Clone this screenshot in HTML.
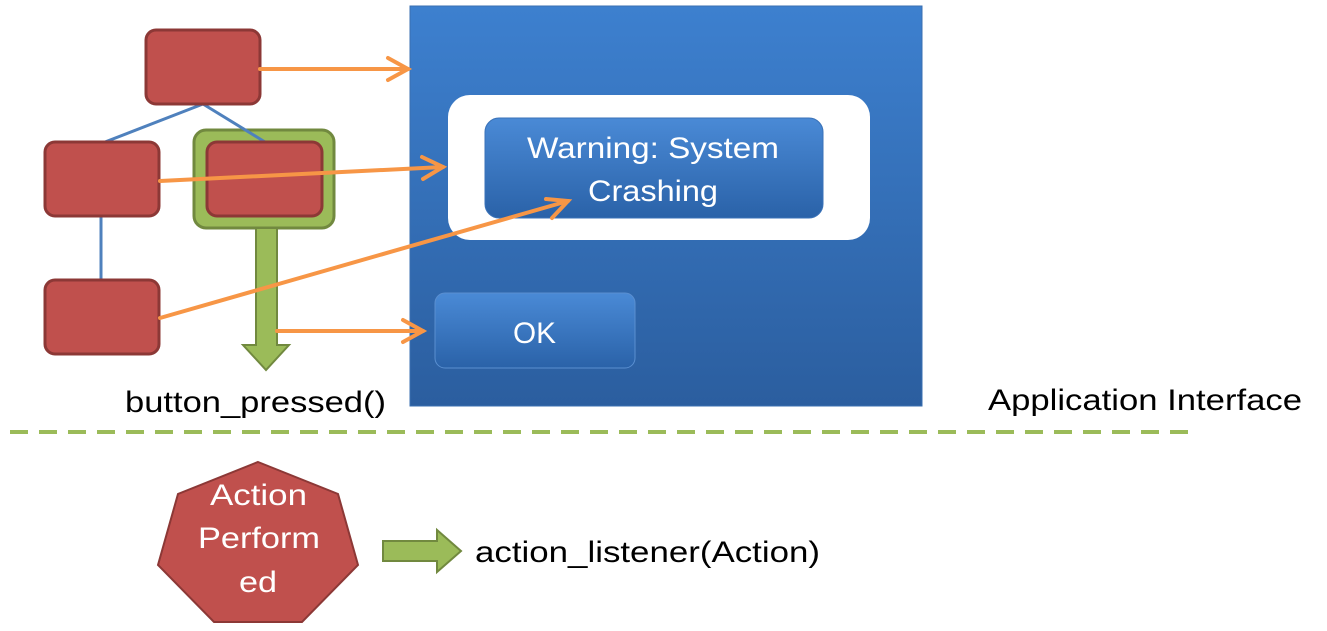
<!DOCTYPE html>
<html><head><meta charset="utf-8"><style>
html,body{margin:0;padding:0;background:#fff;}
svg{display:block;}
text{font-family:"Liberation Sans",sans-serif;}
</style></head><body>
<svg width="1327" height="631" viewBox="0 0 1327 631" xmlns="http://www.w3.org/2000/svg">
<defs>
<linearGradient id="pan" x1="0" y1="0" x2="0" y2="1"><stop offset="0" stop-color="#3d80cf"/><stop offset="1" stop-color="#2b5e9f"/></linearGradient>
<linearGradient id="btn" x1="0" y1="0" x2="0" y2="1"><stop offset="0" stop-color="#4a8ad6"/><stop offset="1" stop-color="#2a62a8"/></linearGradient>
</defs>
<rect x="410" y="6" width="512" height="400" fill="url(#pan)" stroke="#3a6fb0" stroke-width="1"/>
<rect x="448" y="95" width="422" height="145" rx="22" fill="#fff"/>
<rect x="485" y="118" width="338" height="100" rx="14" fill="url(#btn)" stroke="#3a72b8"/>
<text x="527" y="158" font-size="30" fill="#fff" textLength="252" lengthAdjust="spacingAndGlyphs">Warning: System</text>
<text x="588" y="201" font-size="30" fill="#fff" textLength="130" lengthAdjust="spacingAndGlyphs">Crashing</text>
<rect x="435" y="293" width="200" height="75" rx="10" fill="url(#btn)" stroke="#5a8fd0"/>
<text x="513" y="343" font-size="30" fill="#fff" textLength="43" lengthAdjust="spacingAndGlyphs">OK</text>
<rect x="194" y="130" width="140" height="98" rx="12" fill="#9bbb59" stroke="#71893f" stroke-width="3"/>
<g stroke="#4f81bd" stroke-width="3">
<line x1="203" y1="104" x2="105" y2="142"/><line x1="203" y1="104" x2="265" y2="142"/>
<line x1="101" y1="216" x2="101" y2="280"/></g>
<g fill="#c0504d" stroke="#8c3836" stroke-width="3">
<rect x="146" y="30" width="114" height="74" rx="10"/>
<rect x="45" y="142" width="114" height="74" rx="10"/>
<rect x="207" y="142" width="115" height="74" rx="10"/>
<rect x="45" y="280" width="114" height="74" rx="10"/>
</g>
<polygon points="256,228 277,228 277,345 289,345 266,370 243,345 256,345" fill="#9bbb59" stroke="#71893f" stroke-width="2"/>
<g stroke="#f79646" stroke-width="4" fill="none" stroke-linecap="round">
<line x1="260" y1="69" x2="408" y2="69"/><polyline points="388,58 408,69 388,80"/>
<line x1="160" y1="181" x2="443" y2="167"/><polyline points="422,157 443,167 423,179"/>
<line x1="160" y1="318" x2="568" y2="201"/><polyline points="546,199 568,201 552,218"/>
<line x1="277" y1="331" x2="423" y2="331"/><polyline points="403,320 423,331 403,342"/>
</g>
<text x="125" y="412" font-size="30" fill="#000" textLength="261" lengthAdjust="spacingAndGlyphs">button_pressed()</text>
<text x="988" y="410" font-size="30" fill="#000" textLength="314" lengthAdjust="spacingAndGlyphs">Application Interface</text>
<line x1="10" y1="432" x2="1195" y2="432" stroke="#9bbb59" stroke-width="4" stroke-dasharray="18,11"/>
<polygon points="258,462 338,494 358,565 302,622 214,622 158,565 178,494" fill="#c0504d" stroke="#8c3836" stroke-width="2"/>
<text x="210" y="505" font-size="30" fill="#fff" textLength="97" lengthAdjust="spacingAndGlyphs">Action</text>
<text x="198" y="548" font-size="30" fill="#fff" textLength="122" lengthAdjust="spacingAndGlyphs">Perform</text>
<text x="239" y="592" font-size="30" fill="#fff" textLength="38" lengthAdjust="spacingAndGlyphs">ed</text>
<polygon points="383,541 437,541 437,530 461,551 437,572 437,561 383,561" fill="#9bbb59" stroke="#71893f" stroke-width="2"/>
<text x="475" y="562" font-size="30" fill="#000" textLength="345" lengthAdjust="spacingAndGlyphs">action_listener(Action)</text>
</svg>
</body></html>
